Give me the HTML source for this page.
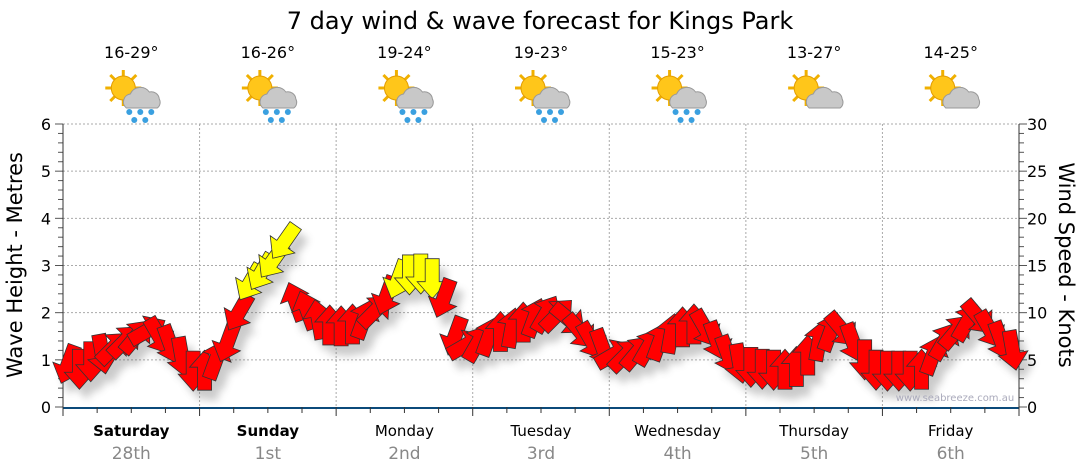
<!DOCTYPE html>
<html><head><meta charset="utf-8"><style>
body{margin:0;background:#fff;}
svg{display:block;font-family:"DejaVu Sans","Liberation Sans",sans-serif;}
</style></head><body>
<svg id="chart" width="1080" height="475" viewBox="0 0 1080 475">
<defs>
<filter id="sh" x="-50%" y="-50%" width="200%" height="200%"><feGaussianBlur stdDeviation="4"/></filter>
<g id="wicon">
 <g stroke="#f0b000" stroke-width="3"><line x1="-12" y1="-26" x2="-12" y2="10"/><line x1="-30" y1="-8" x2="6" y2="-8"/><line x1="-25" y1="-21" x2="1" y2="5"/><line x1="-25" y1="5" x2="1" y2="-21"/></g>
 <circle cx="-12" cy="-8" r="12" fill="#ffc61a" stroke="#e39d00"/>
 <path d="M-9,12 a8,8 0 0 1 4,-14 a11,11 0 0 1 19,-2 a8,8 0 0 1 10,7 a7,7 0 0 1 -2,9 z" fill="#c8c8c8" stroke="#999"/>
</g>
<g id="drops" fill="#3aa0e0"><circle cx="-6" cy="16" r="3"/><circle cx="5" cy="16" r="3"/><circle cx="16" cy="16" r="3"/><circle cx="-1" cy="24" r="3"/><circle cx="10" cy="24" r="3"/></g>
</defs>
<text x="540" y="29" font-size="24" text-anchor="middle" fill="#000">7 day wind &amp; wave forecast for Kings Park</text>
<g id="grid"></g>
<g id="axes"></g>
<g id="icons"></g>
<g id="shadows" filter="url(#sh)" opacity="0.3"></g>
<g id="arrows"></g>
<text x="955" y="401" font-size="10" fill="#aab" text-anchor="middle">www.seabreeze.com.au</text>
<text transform="translate(22,265) rotate(-90)" font-size="21" text-anchor="middle">Wave Height - Metres</text>
<text transform="translate(1059,265) rotate(90)" font-size="21" text-anchor="middle">Wind Speed - Knots</text>
</svg>
<script>
const days=["Saturday","Sunday","Monday","Tuesday","Wednesday","Thursday","Friday"];
const dates=["28th","1st","2nd","3rd","4th","5th","6th"];
const temps=["16-29°","16-26°","19-24°","19-23°","15-23°","13-27°","14-25°"];
const rain=[1,1,1,1,1,0,0];
const waveTicks=[0,1,2,3,4,5,6];
const windTicks=[0,5,10,15,20,25,30];
const windSpeed=[4.5,4.0,4.8,5.6,6.3,7.0,7.5,8.1,7.5,6.6,5.3,3.8,3.9,5.0,6.8,10.0,13.2,14.3,15.5,17.5,11.2,10.3,9.3,8.7,8.6,8.8,9.3,10.2,11.8,13.5,14.0,14.1,13.6,11.5,7.5,6.6,6.8,7.5,8.0,8.4,9.0,9.5,9.9,9.8,9.3,8.0,7.0,6.2,5.6,5.5,5.8,6.4,7.0,7.8,8.5,8.8,8.3,7.0,5.5,4.6,4.2,4.0,3.9,4.0,4.3,5.5,7.0,8.0,8.2,6.8,5.0,3.9,3.8,3.8,3.8,4.0,5.5,7.0,8.0,9.0,9.5,8.2,7.0,6.0];
const windDir=[200,180,180,170,45,45,40,60,150,160,170,180,0,20,200,210,210,210,215,215,340,340,350,0,0,0,20,45,200,200,180,180,180,200,200,60,30,20,0,10,0,20,30,45,130,140,150,160,60,45,40,30,20,10,0,0,150,160,160,170,180,180,180,0,0,0,10,20,140,160,180,180,180,180,180,0,20,30,40,30,140,150,160,170];
const NS="http://www.w3.org/2000/svg";
const X0=63,X1=1019,Y0=407,Y1=124,DW=(X1-X0)/7;
const yW=m=>Y0-(m/6)*(Y0-Y1);
const yK=k=>Y0-(k/30)*(Y0-Y1);
const xT=i=>X0+5+i*(DW/12);
function el(t,a,p){const e=document.createElementNS(NS,t);for(const k in a)e.setAttribute(k,a[k]);document.getElementById(p).appendChild(e);return e;}
for(const m of waveTicks){if(m>0){const g=el('line',{x1:X0,x2:X1,y1:yW(m),y2:yW(m),stroke:'#aaa','stroke-dasharray':'2,2'},'grid');

}
const t=el('text',{x:51,y:yW(m)+6,'font-size':16,'text-anchor':'end',fill:'#000'},'axes');t.textContent=m;

}
for(let i=0;i<=30;i++){const y=yK(i),w=i%5==0?8:5;el('line',{x1:X0-w,x2:X0,y1:y,y2:y,stroke:'#555'},'axes');el('line',{x1:X1,x2:X1+w,y1:y,y2:y,stroke:'#555'},'axes');}
for(const k of windTicks){const t=el('text',{x:1027,y:yK(k)+6,'font-size':16,fill:'#000'},'axes');t.textContent=k;

}
el('line',{x1:X0,x2:X0,y1:Y1,y2:Y0,stroke:'#333'},'axes');
el('line',{x1:X1,x2:X1,y1:Y1,y2:Y0,stroke:'#333'},'axes');
el('line',{x1:X0,x2:X1,y1:Y0+1,y2:Y0+1,stroke:'#0b4a7a','stroke-width':2},'axes');
for(let i=0;i<=28;i++){const x=X0+i*DW/4;el('line',{x1:x,x2:x,y1:Y0,y2:Y0+(i%4==0?9:6),stroke:'#333'},'axes');}
days.forEach((d,i)=>{const cx=X0+DW*(i+0.5);
if(i>0){const g=el('line',{x1:X0+DW*i,x2:X0+DW*i,y1:Y1,y2:Y0,stroke:'#aaa','stroke-dasharray':'2,2'},'grid');

}
const t=el('text',{x:cx,y:436,'font-size':15,'text-anchor':'middle','font-weight':i<2?'bold':'normal'},'axes');t.textContent=d;


const t2=el('text',{x:cx,y:459,'font-size':17,'text-anchor':'middle',fill:'#888'},'axes');t2.textContent=dates[i];


const t3=el('text',{x:cx,y:58,'font-size':16,'text-anchor':'middle'},'icons');t3.textContent=temps[i];


const u=el('use',{href:'#wicon',transform:`translate(${cx+4},${96})`},'icons');


if(rain[i])el('use',{href:'#drops',transform:`translate(${cx+4},${96})`},'icons');});
const ap="M-7,20 L-7,-3 L-15,-3 L0,-20 L15,-3 L7,-3 L7,20 Z";
windSpeed.forEach((k,i)=>{const x=xT(i),y=yK(k),r=windDir[i];
el('path',{d:ap,transform:`translate(${x+7},${y+10}) rotate(${r})`,fill:'#555'},'shadows');
const a=el('path',{d:ap,transform:`translate(${x},${y}) rotate(${r})`,fill:k>=12?'#ffff00':'#ff0000',stroke:'#333','stroke-width':0.8},'arrows');

});
</script>
</body></html>
